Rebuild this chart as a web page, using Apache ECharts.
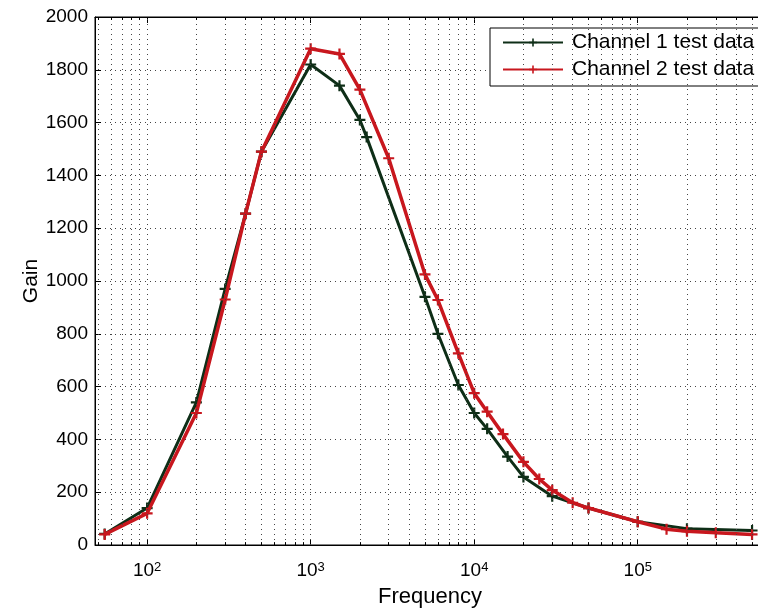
<!DOCTYPE html>
<html>
<head>
<meta charset="utf-8">
<script src="https://cdn.jsdelivr.net/npm/echarts@6/dist/echarts.min.js"></script>
<style>
  html, body { margin: 0; padding: 0; background: #fff; }
  #chart { width: 758px; height: 611px; }
</style>
</head>
<body>
<div id="chart"></div>
<script>
// channel 1 (dark) test data
const ch1Freq = [55, 100, 200, 300, 400, 500, 1000, 1500, 2000, 2200, 5000, 6000, 8000, 10000, 12000, 16000, 20000, 30000, 50000, 100000, 200000, 500000]
const ch1Gain = [42, 140, 540, 970, 1255, 1490, 1820, 1740, 1610, 1545, 940, 800, 606, 500, 440, 335, 258, 185, 140, 88, 62, 55]
// channel 2 (red) test data
const ch2Freq = [55, 100, 200, 300, 400, 500, 1000, 1500, 2000, 3000, 5000, 6000, 8000, 10000, 12000, 15000, 20000, 25000, 30000, 40000, 50000, 100000, 150000, 200000, 300000, 500000]
const ch2Gain = [40, 120, 500, 930, 1255, 1490, 1880, 1860, 1725, 1465, 1025, 928, 726, 575, 505, 420, 315, 250, 208, 160, 140, 88, 60, 52, 46, 40]

const seriesNames = ['Channel 1 test data', 'Channel 2 test data']
const yTicks = [0, 200, 400, 600, 800, 1000, 1200, 1400, 1600, 1800, 2000]
const xMin = 48, xMax = 600000
const decades = [10, 100, 1000, 10000, 100000]
const mults = [1, 2, 3, 4, 5, 6, 7, 8, 9]

const font = 'Liberation Sans'
const plus = 'path://M4,0H6V4H10V6H6V10H4V6H0V4H4Z'

// dotted grid lines at every decade subdivision
let gridX = []
decades.forEach(d => mults.forEach(m => {
    let v = d * m
    if (v > xMin && v < xMax) gridX.push(v)
}))
let isMajor = v => Math.abs(Math.log10(v) - Math.round(Math.log10(v))) < 1e-6

let gridLines = gridX.map(v => ({ xAxis: v }))
let minorTicks = []
gridX.filter(v => !isMajor(v)).forEach(v => {
    minorTicks.push([{ coord: [v, 0] }, { coord: [v, 11] }])
    minorTicks.push([{ coord: [v, 2000] }, { coord: [v, 1989] }])
})

let chart = echarts.init(document.getElementById('chart'))

let xBase = {
    type: 'log',
    logBase: 10,
    min: xMin,
    max: xMax,
    axisLine: { show: true, lineStyle: { color: '#000', width: 1 } },
    axisTick: { show: true, inside: true, length: 6, lineStyle: { color: '#000' } },
    splitLine: { show: false },
}

chart.setOption({
    backgroundColor: '#fff',
    animation: false,
    grid: {
        left: 95, top: 17, width: 670, bottom: 66,
        outerBoundsMode: 'none',
        show: true, borderColor: '#000', borderWidth: 1, backgroundColor: '#fff',
    },
    legend: {
        data: seriesNames,
        orient: 'vertical',
        left: 490, top: 28,
        padding: [4, 12, 6, 12],
        itemGap: 6,
        itemWidth: 60, itemHeight: 10,
        borderColor: '#000', borderWidth: 1, borderRadius: 0,
        backgroundColor: '#fff',
        textStyle: { fontFamily: font, fontSize: 21, color: '#000', padding: [0, 0, 0, 4] },
    },
    xAxis: [{
        ...xBase,
        position: 'bottom',
        name: 'Frequency',
        nameLocation: 'middle',
        nameGap: 41,
        nameMoveOverlap: false,
        nameTextStyle: { fontFamily: font, fontSize: 22, color: '#000' },
        axisLabel: {
            margin: 16,
            formatter: v => isMajor(v) ? '{b|10}{s|' + Math.round(Math.log10(v)) + '}' : '',
            rich: {
                b: { fontFamily: font, fontSize: 19, color: '#000' },
                s: { fontFamily: font, fontSize: 13, color: '#000', verticalAlign: 'top' },
            },
        },
    }, {
        ...xBase,
        position: 'top',
        axisLabel: { show: false },
    }],
    yAxis: {
        type: 'value',
        min: yTicks[0],
        max: yTicks[yTicks.length - 1],
        interval: 200,
        name: 'Gain',
        nameLocation: 'middle',
        nameGap: 53,
        nameMoveOverlap: false,
        nameTextStyle: { fontFamily: font, fontSize: 21, color: '#000' },
        axisLine: { show: true, lineStyle: { color: '#000', width: 1 } },
        axisTick: { show: true, inside: true, length: 6, lineStyle: { color: '#000' } },
        axisLabel: { fontFamily: font, fontSize: 19, color: '#000', margin: 7, formatter: v => String(v) },
        splitLine: { show: true, lineStyle: { color: '#444', type: [1, 4], width: 1 } },
    },
    series: [{
        // holder for the vertical dotted grid
        type: 'line',
        data: [],
        silent: true,
        z: 1,
        markLine: {
            silent: true,
            symbol: 'none',
            label: { show: false },
            animation: false,
            data: gridLines,
            lineStyle: { color: '#444', type: [1, 4], width: 1 },
        },
    }, {
        // minor ticks, top and bottom
        type: 'line',
        data: [],
        silent: true,
        z: 1,
        markLine: {
            silent: true,
            symbol: 'none',
            label: { show: false },
            animation: false,
            data: minorTicks,
            lineStyle: { color: '#000', type: 'solid', width: 1 },
        },
    }, {
        name: seriesNames[0],
        type: 'line',
        data: ch1Freq.map((f, i) => [f, ch1Gain[i]]),
        symbol: plus,
        symbolSize: 11,
        lineStyle: { color: '#0e2e17', width: 3 },
        itemStyle: { color: '#0e2e17' },
        z: 3,
    }, {
        name: seriesNames[1],
        type: 'line',
        data: ch2Freq.map((f, i) => [f, ch2Gain[i]]),
        symbol: plus,
        symbolSize: 11,
        lineStyle: { color: '#c8171e', width: 3.5 },
        itemStyle: { color: '#c8171e' },
        z: 4,
    }],
})
</script>
</body>
</html>
